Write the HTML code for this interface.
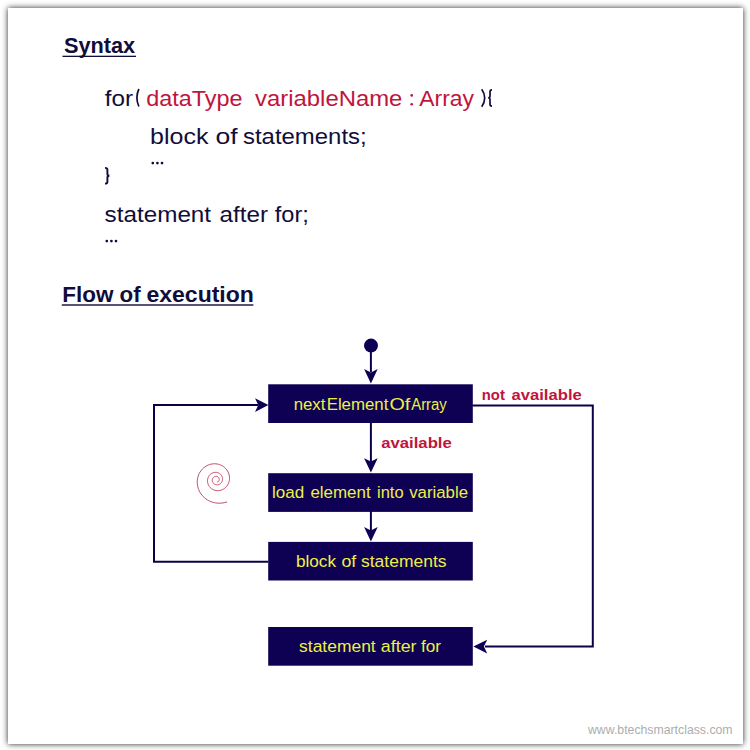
<!DOCTYPE html>
<html><head><meta charset="utf-8">
<style>
html,body{margin:0;padding:0;background:#fff;}
body{width:750px;height:750px;overflow:hidden;position:relative;font-family:"Liberation Sans",sans-serif;}
#card{position:absolute;left:8px;top:8px;width:735px;height:736px;background:#fff;box-shadow:0 0 6px 0 rgba(0,0,0,.85);}
svg{position:absolute;left:0;top:0;}
text{font-family:"Liberation Sans",sans-serif;}
.c{font-size:21.5px;fill:#110d3a;}
.r{fill:#bf143e;}
.h{font-size:22px;font-weight:bold;fill:#110d3a;}
.b{font-size:16.3px;fill:#ecf046;}
.l{font-size:15.4px;font-weight:bold;fill:#bf143e;}
.w{font-size:12.3px;fill:#adadad;}
</style></head><body>
<div id="card"></div>
<svg width="750" height="750" viewBox="0 0 750 750">
<rect x="62.5" y="55.7" width="73.5" height="1.3" fill="#110d3a"/>
<rect x="61.8" y="304.3" width="191.6" height="1.4" fill="#110d3a"/>
<g fill="#0e0153">
<rect x="268.2" y="384.3" width="204.6" height="38.7"/>
<rect x="268.2" y="473.2" width="204.6" height="38.7"/>
<rect x="268.2" y="541.9" width="204.6" height="38.6"/>
<rect x="268.2" y="627" width="204.6" height="38.7"/>
<circle cx="371" cy="345.6" r="7"/>
</g>
<g stroke="#0c0046" stroke-width="2" fill="none">
<path d="M370.9 350 V372"/>
<path d="M370.9 422 V462"/>
<path d="M370.9 511 V531"/>
<path d="M268.3 561.7 H154 V405.1 H258"/>
<path d="M472.3 405.6 H592.8 V646.5 H485"/>
</g>
<g fill="#0e0153">
<path d="M370.9 383.6 L364.1 369 L370.9 372.4 L377.7 369 Z"/>
<path d="M370.9 472.6 L364.1 458.2 L370.9 461.6 L377.7 458.2 Z"/>
<path d="M370.9 541.4 L364.1 527 L370.9 530.4 L377.7 527 Z"/>
<path d="M268.4 405.1 L255 398.3 L258.3 405.1 L255 411.9 Z"/>
<path d="M473.4 646.6 L487.2 639.8 L483.9 646.6 L487.2 653.4 Z"/>
</g>
<path transform="translate(216.45,479.76) scale(0.968,0.975) translate(-216.45,-479.46)" d="M217.47,481.77 L217.66,481.70 L217.85,481.62 L218.03,481.53 L218.20,481.41 L218.37,481.29 L218.53,481.15 L218.67,480.99 L218.81,480.83 L218.93,480.65 L219.04,480.46 L219.14,480.26 L219.22,480.05 L219.28,479.83 L219.33,479.61 L219.36,479.38 L219.38,479.15 L219.37,478.92 L219.35,478.68 L219.30,478.45 L219.24,478.22 L219.16,477.99 L219.06,477.76 L218.94,477.54 L218.81,477.33 L218.65,477.13 L218.48,476.94 L218.30,476.76 L218.09,476.60 L217.88,476.45 L217.65,476.32 L217.41,476.20 L217.16,476.10 L216.89,476.03 L216.62,475.97 L216.35,475.93 L216.07,475.92 L215.78,475.92 L215.50,475.95 L215.22,476.01 L214.93,476.08 L214.66,476.18 L214.38,476.30 L214.12,476.44 L213.86,476.61 L213.62,476.79 L213.39,477.00 L213.18,477.23 L212.98,477.47 L212.80,477.73 L212.64,478.01 L212.50,478.30 L212.38,478.61 L212.29,478.93 L212.22,479.25 L212.17,479.59 L212.15,479.93 L212.16,480.27 L212.20,480.61 L212.26,480.96 L212.35,481.30 L212.47,481.64 L212.62,481.97 L212.79,482.29 L212.99,482.59 L213.22,482.89 L213.47,483.17 L213.74,483.43 L214.04,483.67 L214.36,483.88 L214.69,484.08 L215.05,484.25 L215.42,484.39 L215.80,484.50 L216.20,484.59 L216.60,484.64 L217.01,484.66 L217.43,484.65 L217.85,484.61 L218.26,484.53 L218.68,484.42 L219.08,484.27 L219.48,484.10 L219.87,483.89 L220.24,483.64 L220.60,483.37 L220.94,483.07 L221.25,482.73 L221.54,482.37 L221.80,481.99 L222.04,481.58 L222.24,481.15 L222.42,480.70 L222.55,480.24 L222.65,479.76 L222.72,479.27 L222.74,478.77 L222.73,478.27 L222.68,477.76 L222.58,477.26 L222.45,476.76 L222.27,476.26 L222.05,475.78 L221.80,475.31 L221.50,474.86 L221.17,474.43 L220.80,474.02 L220.40,473.64 L219.97,473.29 L219.50,472.97 L219.00,472.69 L218.48,472.44 L217.94,472.23 L217.38,472.07 L216.80,471.95 L216.20,471.87 L215.60,471.84 L214.99,471.86 L214.38,471.92 L213.77,472.04 L213.16,472.20 L212.56,472.41 L211.98,472.68 L211.41,472.99 L210.87,473.34 L210.35,473.75 L209.85,474.19 L209.39,474.68 L208.97,475.21 L208.58,475.77 L208.24,476.37 L207.94,477.00 L207.69,477.66 L207.49,478.35 L207.34,479.05 L207.25,479.77 L207.21,480.50 L207.24,481.24 L207.32,481.98 L207.46,482.72 L207.66,483.45 L207.92,484.17 L208.23,484.88 L208.61,485.57 L209.04,486.23 L209.53,486.86 L210.07,487.46 L210.66,488.01 L211.30,488.53 L211.99,488.99 L212.72,489.41 L213.48,489.77 L214.28,490.07 L215.10,490.31 L215.96,490.49 L216.83,490.60 L217.71,490.64 L218.61,490.62 L219.50,490.52 L220.40,490.35 L221.29,490.10 L222.16,489.79 L223.02,489.40 L223.85,488.95 L224.65,488.42 L225.41,487.83 L226.13,487.17 L226.81,486.46 L227.43,485.68 L227.99,484.85 L228.50,483.97 L228.93,483.04 L229.30,482.08 L229.59,481.08 L229.80,480.04 L229.93,478.99 L229.98,477.92 L229.95,476.83 L229.83,475.75 L229.62,474.66 L229.33,473.59 L228.95,472.53 L228.48,471.49 L227.92,470.49 L227.29,469.52 L226.57,468.59 L225.77,467.72 L224.90,466.91 L223.96,466.15 L222.96,465.47 L221.89,464.86 L220.77,464.34 L219.60,463.90 L218.38,463.55 L217.13,463.29 L215.86,463.13 L214.56,463.07 L213.25,463.11 L211.93,463.26 L210.62,463.51 L209.31,463.87 L208.03,464.34 L206.78,464.90 L205.56,465.58 L204.39,466.35 L203.27,467.22 L202.22,468.18 L201.23,469.24 L200.32,470.38 L199.49,471.60 L198.76,472.89 L198.12,474.25 L197.59,475.67 L197.17,477.14 L196.86,478.65 L196.67,480.20 L196.60,481.77 L196.65,483.36 L196.83,484.95 L197.14,486.54 L197.57,488.12 L198.14,489.67 L198.83,491.19 L199.64,492.66 L200.58,494.08 L201.63,495.43 L202.80,496.71 L204.08,497.91 L205.46,499.01 L206.94,500.00 L208.51,500.89 L210.15,501.66 L211.87,502.30 L213.65,502.81 L215.49,503.19 L217.36,503.42 L219.27,503.50 L221.19,503.43 L223.12,503.21 L225.05,502.84 L226.96,502.31" fill="none" stroke="#b3173d" stroke-width="0.9" opacity="0.88" stroke-linecap="round"/>
<text class="h" x="63.9" y="52.5" textLength="71.3" lengthAdjust="spacingAndGlyphs">Syntax</text>
<text class="h" x="62.29" y="301.6" textLength="51.14" lengthAdjust="spacingAndGlyphs">Flow</text>
<text class="h" x="119.5" y="301.6" textLength="21.1" lengthAdjust="spacingAndGlyphs">of</text>
<text class="h" x="146.43" y="301.6" textLength="107.47" lengthAdjust="spacingAndGlyphs">execution</text>
<text class="c" x="104.7" y="105.6" textLength="28.3" lengthAdjust="spacingAndGlyphs">for</text>
<text class="c r" x="146.24" y="105.6" textLength="96.26" lengthAdjust="spacingAndGlyphs">dataType</text>
<text class="c r" x="255.14" y="105.6" textLength="147.24" lengthAdjust="spacingAndGlyphs">variableName</text>
<text class="c r" x="419.3" y="105.6" textLength="54.7" lengthAdjust="spacingAndGlyphs">Array</text>
<text class="c" x="150.14" y="144.3" textLength="58.38" lengthAdjust="spacingAndGlyphs">block</text>
<text class="c" x="215.48" y="144.3" textLength="22.14" lengthAdjust="spacingAndGlyphs">of</text>
<text class="c" x="243.0" y="144.3" textLength="123.66" lengthAdjust="spacingAndGlyphs">statements;</text>
<text class="c" x="104.63" y="222.3" textLength="106.47" lengthAdjust="spacingAndGlyphs">statement</text>
<text class="c" x="219.5" y="222.3" textLength="48.5" lengthAdjust="spacingAndGlyphs">after</text>
<text class="c" x="274.81" y="222.3" textLength="34.09" lengthAdjust="spacingAndGlyphs">for;</text>
<text class="b" x="293.67" y="410.4" textLength="31.76" lengthAdjust="spacingAndGlyphs">next</text>
<text class="b" x="326.67" y="410.4" textLength="61.76" lengthAdjust="spacingAndGlyphs">Element</text>
<text class="b" x="389.43" y="410.4" textLength="20.86" lengthAdjust="spacingAndGlyphs">Of</text>
<text class="b" x="411.2" y="410.4" textLength="35.6" lengthAdjust="spacingAndGlyphs">Array</text>
<text class="b" x="272.0" y="498.2" textLength="32.2" lengthAdjust="spacingAndGlyphs">load</text>
<text class="b" x="310.42" y="498.2" textLength="60.26" lengthAdjust="spacingAndGlyphs">element</text>
<text class="b" x="377.0" y="498.2" textLength="26.6" lengthAdjust="spacingAndGlyphs">into</text>
<text class="b" x="409.2" y="498.2" textLength="58.8" lengthAdjust="spacingAndGlyphs">variable</text>
<text class="b" x="295.9" y="567.2" textLength="40.1" lengthAdjust="spacingAndGlyphs">block</text>
<text class="b" x="341.43" y="567.2" textLength="14.86" lengthAdjust="spacingAndGlyphs">of</text>
<text class="b" x="361.0" y="567.2" textLength="85.5" lengthAdjust="spacingAndGlyphs">statements</text>
<text class="b" x="299.1" y="652.0" textLength="76.6" lengthAdjust="spacingAndGlyphs">statement</text>
<text class="b" x="380.86" y="652.0" textLength="35.64" lengthAdjust="spacingAndGlyphs">after</text>
<text class="b" x="421.0" y="652.0" textLength="20.0" lengthAdjust="spacingAndGlyphs">for</text>
<text class="l" x="381.2" y="448.0" textLength="70.6" lengthAdjust="spacingAndGlyphs">available</text>
<text class="l" x="481.81" y="399.6" textLength="23.05" lengthAdjust="spacingAndGlyphs">not</text>
<text class="l" x="511.5" y="399.6" textLength="70.26" lengthAdjust="spacingAndGlyphs">available</text>
<text class="w" x="588.0" y="734.0" textLength="144.6" lengthAdjust="spacingAndGlyphs">www.btechsmartclass.com</text>
<circle cx="152.80" cy="163.1" r="1.35" fill="#110d3a"/><circle cx="157.40" cy="163.1" r="1.35" fill="#110d3a"/><circle cx="162.00" cy="163.1" r="1.35" fill="#110d3a"/>
<circle cx="106.80" cy="241.1" r="1.35" fill="#110d3a"/><circle cx="111.40" cy="241.1" r="1.35" fill="#110d3a"/><circle cx="116.00" cy="241.1" r="1.35" fill="#110d3a"/>
<g fill="none" stroke="#110d3a" stroke-width="1.7" stroke-linecap="butt">
<path d="M138.9,89 Q136.9,93 136.9,97.7 Q136.9,102.4 138.9,106.5"/>
<path d="M481.7,89.2 Q484.7,93.3 484.7,98 Q484.7,102.6 481.7,106.7"/>
<path d="M492,89.9 Q490,89.9 490,91.8 V96 Q490,97.8 488.2,97.8 Q490,97.8 490,99.6 V104.2 Q490,106.1 492,106.1"/>
<path d="M105,167.9 Q107.4,167.9 107.4,169.8 V174 Q107.4,175.7 109.4,175.7 Q107.4,175.7 107.4,177.4 V181.7 Q107.4,183.6 105,183.6" stroke-width="1.9"/>
</g>
<circle cx="411.7" cy="95.4" r="1.3" fill="#bf143e"/><circle cx="411.7" cy="104.2" r="1.3" fill="#bf143e"/>
</svg>
</body></html>
